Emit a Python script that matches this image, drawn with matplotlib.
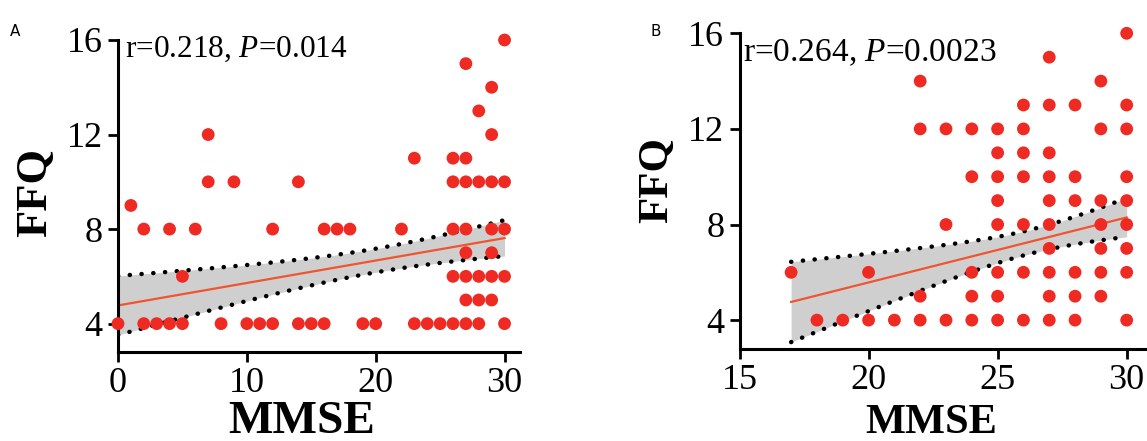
import numpy as np
import matplotlib
matplotlib.use("Agg")
import matplotlib.pyplot as plt

plt.rcParams["mathtext.fontset"] = "custom"
plt.rcParams["mathtext.rm"] = "Liberation Serif"
plt.rcParams["mathtext.it"] = "Liberation Serif:italic"

# ---- Data: panel A (MMSE vs FFQ) ----
a_mmse = [0, 1, 2, 2, 3, 4, 4, 5, 5, 6, 7, 7, 8, 9, 10, 11, 12, 12, 14, 14,
          15, 16, 16, 17, 18, 19, 20, 22, 23, 23, 24, 25, 26, 26, 26, 26, 26,
          27, 27, 27, 27, 27, 27, 27, 27, 28, 28, 28, 28, 28,
          29, 29, 29, 29, 29, 29, 29, 30, 30, 30, 30, 30]
a_ffq = [4, 9, 4, 8, 4, 4, 8, 4, 6, 8, 10, 12, 4, 10, 4, 4, 4, 8, 4, 10,
         4, 4, 8, 8, 8, 4, 4, 8, 4, 11, 4, 4, 4, 6, 8, 10, 11,
         4, 5, 6, 7, 8, 10, 11, 15, 4, 5, 6, 10, 13,
         5, 6, 7, 8, 10, 12, 14, 4, 6, 8, 10, 16]

# ---- Data: panel B ----
b_mmse = [17, 18, 19, 20, 20, 21, 22, 22, 22, 22, 23, 23, 23,
          24, 24, 24, 24, 24, 25, 25, 25, 25, 25, 25, 25, 25,
          26, 26, 26, 26, 26, 26, 26, 27, 27, 27, 27, 27, 27, 27, 27, 27, 27,
          28, 28, 28, 28, 28, 28, 29, 29, 29, 29, 29, 29, 29,
          30, 30, 30, 30, 30, 30, 30, 30, 30]
b_ffq = [6, 4, 4, 4, 6, 4, 4, 5, 12, 14, 4, 8, 12,
         4, 5, 6, 10, 12, 4, 5, 6, 8, 9, 10, 11, 12,
         4, 6, 8, 10, 11, 12, 13, 4, 5, 6, 7, 8, 9, 10, 11, 13, 15,
         4, 5, 6, 9, 10, 13, 5, 6, 7, 8, 9, 12, 14,
         4, 6, 7, 8, 9, 10, 12, 13, 16]

# ---- Regression line / 95% band ----
a_fit = dict(intercept=4.77, slope=0.095, xmin=0, xmax=30, xbar=20.0, w_min=0.5, w_left=1.25)
b_fit = dict(intercept=0.136, slope=0.272, xmin=17, xmax=30, xbar=26.3, w_min=0.5, w_left=1.68)

a_r, a_p = "0.218", "0.014"
b_r, b_p = "0.264", "0.0023"

a_xticks = [0, 10, 20, 30]
b_xticks = [15, 20, 25, 30]
yticks = [4, 8, 12, 16]

DOT = "#ee2a22"
LINE = "#f0552f"
BAND = "#cfcfcf"
SERIF = "Liberation Serif"

W, H = 1147, 441
fig = plt.figure(figsize=(W / 100, H / 100), dpi=100)
fig.patch.set_facecolor("white")


def band(p, xs):
    fit = p["intercept"] + p["slope"] * xs
    k = np.sqrt(p["w_left"] ** 2 - p["w_min"] ** 2) / abs(p["xmin"] - p["xbar"])
    w = np.sqrt(p["w_min"] ** 2 + (k * (xs - p["xbar"])) ** 2)
    return fit, fit - w, fit + w


def panel(rect, x, y, xlim, xticks, p, rtxt, ptxt, txt_pos, txt_size):
    ax = fig.add_axes(rect)
    ax.set_xlim(*xlim)
    ax.set_ylim(2.8, 16)
    xs = np.linspace(p["xmin"], p["xmax"], 200)
    fit, lo, hi = band(p, xs)
    ax.fill_between(xs, lo, hi, color=BAND, zorder=1, lw=0)
    ax.plot(xs, fit, color=LINE, lw=1.6, zorder=2)
    for arr in (lo, hi):
        ax.plot(xs, arr, color="black", lw=3.2, zorder=3,
                linestyle=(0, (0.05, 2.6)), dash_capstyle="round")
    ax.scatter(x, y, s=85, color=DOT, edgecolors="none", zorder=4, clip_on=False)
    for sp in ("top", "right"):
        ax.spines[sp].set_visible(False)
    for sp in ("left", "bottom"):
        ax.spines[sp].set_linewidth(2.2)
    ax.set_xticks(xticks)
    ax.set_yticks(yticks)
    ax.tick_params(axis="both", width=2.0, length=7, labelsize=26, pad=4)
    for lab in ax.get_xticklabels() + ax.get_yticklabels():
        lab.set_fontfamily(SERIF)
    ax.text(txt_pos[0], txt_pos[1], "r=" + rtxt + ", " + r"$\it{P}$" + "=" + ptxt,
            transform=ax.transAxes, ha="left", va="baseline",
            fontsize=txt_size, fontfamily=SERIF)
    return ax


def px(xp, yp):
    return xp / W, 1 - yp / H


# Panel A
panel([118 / W, 1 - 352 / H, 402 / W, 312 / H], a_mmse, a_ffq, (0, 31.2), a_xticks,
      a_fit, a_r, a_p, (0.0174, 0.9455), 22.5)
fig.text(*px(302, 433), "MMSE", fontfamily=SERIF, fontweight="bold", fontsize=34,
         ha="center", va="baseline")
fig.text(*px(46, 192), "FFQ", fontfamily=SERIF, fontweight="bold", fontsize=32,
         rotation=90, rotation_mode="anchor", ha="center", va="baseline")
fig.text(*px(10, 31), "A", fontsize=11, fontfamily="DejaVu Sans", ha="left", va="center")

# Panel B
panel([739.5 / W, 1 - 348.8 / H, 413 / W, 315.5 / H], b_mmse, b_ffq, (15, 31), b_xticks,
      b_fit, b_r, b_p, (0.0085, 0.910), 24)
fig.text(*px(931, 433), "MMSE", fontfamily=SERIF, fontweight="bold", fontsize=30.5,
         ha="center", va="baseline")
fig.text(*px(667, 180), "FFQ", fontfamily=SERIF, fontweight="bold", fontsize=31,
         rotation=90, rotation_mode="anchor", ha="center", va="baseline")
fig.text(*px(650, 31), "B", fontsize=11, fontfamily="DejaVu Sans", ha="left", va="center")

fig.savefig("out.png", dpi=100, facecolor="white")
